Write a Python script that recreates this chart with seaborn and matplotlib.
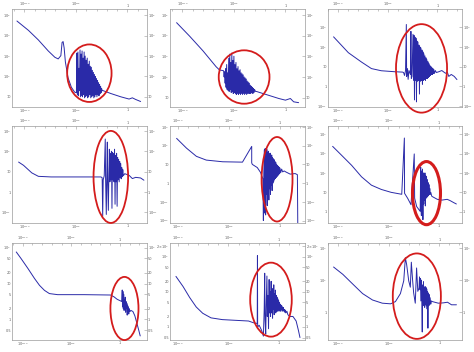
import numpy as np
import pandas as pd
import matplotlib
matplotlib.use("Agg")
import matplotlib.pyplot as plt
import seaborn as sns
from matplotlib.patches import Ellipse
from matplotlib.ticker import FixedLocator, NullLocator, NullFormatter

sns.set_style("white")
plt.rcParams['font.family'] = ['DejaVu Sans']
plt.rcParams['mathtext.fontset'] = 'dejavusans'

# ---------------- data: log10(x), log10(y) ----------------
p1_lx = [-10.72, -9.6, -8.64, -7.68, -7.04, -6.72, -6.46, -6.34, -6.24, -6.14, -6.02, -5.76, -5.44, -5.12,
         -4.95, -4.90, -4.86, -4.80, -4.76, -4.70, -4.66, -4.60, -4.56, -4.50, -4.46, -4.40, -4.36, -4.30,
         -4.26, -4.20, -4.16, -4.10, -4.06, -4.00, -3.96, -3.90, -3.86, -3.80, -3.76, -3.70, -3.66, -3.60,
         -3.56, -3.50, -3.46, -3.40, -3.36, -3.30, -3.26, -3.20, -3.16, -3.10, -3.06, -3.00, -2.96, -2.90,
         -2.86, -2.80, -2.76, -2.70, -2.66, -2.60, -2.56, -2.50, -2.45,
         -2.4, -1.6, -0.64, 0.16, 0.48, 0.8, 1.28]
p1_ly = [4.72, 4.26, 3.79, 3.25, 2.94, 2.86, 3.02, 3.67, 3.71, 3.40, 2.71, 1.93, 1.47, 1.23,
         1.2, 3.15, 1.1, 3.2, 1.05, 2.4, 1.3, 3.3, 1.0, 3.1, 1.05, 3.25, 1.0, 2.9,
         1.1, 3.2, 0.95, 3.0, 1.0, 2.8, 1.05, 2.9, 0.95, 2.6, 1.0, 2.75, 1.1, 2.5,
         0.95, 2.45, 1.0, 2.3, 1.05, 2.2, 0.95, 2.1, 1.0, 2.0, 1.1, 1.9, 1.0, 1.8,
         1.1, 1.7, 1.05, 1.6, 1.15, 1.5, 1.2, 1.4, 1.3,
         1.31, 1.16, 1.0, 0.89, 0.95, 0.87, 0.77]

p2_lx = [-10.56, -9.28, -8.0, -6.72, -6.4,
         -6.00, -5.95, -5.90, -5.85, -5.80, -5.76, -5.70, -5.66, -5.60, -5.56, -5.50, -5.46, -5.40, -5.36,
         -5.30, -5.26, -5.20, -5.16, -5.10, -5.06, -5.00, -4.96, -4.90, -4.86, -4.80, -4.76, -4.70, -4.66,
         -4.60, -4.56, -4.50, -4.46, -4.40, -4.36, -4.30, -4.26, -4.20, -4.16, -4.10, -4.06, -4.00, -3.96,
         -3.90, -3.86, -3.80, -3.76, -3.70, -3.66, -3.60, -3.56, -3.50, -3.46, -3.40, -3.36, -3.30, -3.26,
         -3.20, -3.16, -3.10, -3.06, -3.00, -2.90, -2.80,
         -2.56, -1.6, -0.64, 0.0, 0.48, 0.8, 1.28]
p2_ly = [4.62, 3.96, 3.26, 2.49, 2.34,
         2.3, 2.0, 2.25, 1.7, 2.4, 1.5, 2.6, 1.4, 2.2, 1.35, 2.9, 1.3, 3.1, 1.4,
         2.7, 1.25, 3.15, 1.3, 2.8, 1.2, 3.0, 1.25, 2.6, 1.2, 2.7, 1.15, 2.4, 1.2,
         2.5, 1.15, 2.3, 1.2, 2.35, 1.15, 2.2, 1.2, 2.15, 1.15, 2.1, 1.2, 2.0, 1.15,
         1.95, 1.2, 1.9, 1.15, 1.8, 1.2, 1.75, 1.2, 1.7, 1.2, 1.6, 1.2, 1.55, 1.25,
         1.5, 1.2, 1.45, 1.25, 1.4, 1.3, 1.3,
         1.26, 1.11, 0.96, 0.88, 0.96, 0.8, 0.76]

p3_lx = [-10.44, -8.95, -7.62, -6.63, -5.64, -4.31, -3.49,
         -3.40, -3.30, -3.20, -3.12, -3.09, -3.00, -2.94, -2.85, -2.70, -2.66, -2.62, -2.55, -2.45, -2.40,
         -2.35, -2.30, -2.25, -2.20, -2.15, -2.10, -2.05, -2.00, -1.95, -1.90, -1.85, -1.80, -1.75, -1.70,
         -1.65, -1.60, -1.55, -1.50, -1.45, -1.40, -1.35, -1.30, -1.25, -1.20, -1.15, -1.10, -1.05, -1.00,
         -0.95, -0.90, -0.85, -0.80, -0.75, -0.70, -0.65, -0.60, -0.55, -0.50, -0.45, -0.40, -0.35, -0.30,
         -0.20, -0.10,
         0.15, 0.45, 0.82, 1.0, 1.15, 1.4, 1.7, 1.97]
p3_ly = [2.52, 1.71, 1.23, 0.9, 0.79, 0.74, 0.72,
         0.7, 0.55, 0.8, 3.15, 0.5, 0.9, 0.35, 0.8, 0.6, 2.8, 0.4, 0.5, 2.65, 0.3,
         2.6, -0.7, 2.5, 0.3, 2.45, -0.8, 2.3, 0.25, 2.25, 0.3, 2.1, -0.4, 2.0, 0.25,
         1.95, 0.3, 1.85, 0.1, 1.75, 0.3, 1.65, 0.35, 1.55, 0.3, 1.45, 0.4, 1.35, 0.4,
         1.25, 0.45, 1.15, 0.5, 1.05, 0.55, 1.0, 0.6, 0.95, 0.6, 0.9, 0.65, 0.85, 0.65,
         0.8, 0.7,
         0.74, 0.8, 0.66, 0.72, 0.5, 0.6, 0.5, 0.34]

p4_lx = [-10.56, -10.08, -9.28, -8.64, -7.4, -5.0, -2.56,
         -2.45, -2.40, -2.35, -2.25, -2.15, -2.12, -2.05, -2.00, -1.95, -1.92, -1.85, -1.80, -1.75, -1.70,
         -1.65, -1.60, -1.55, -1.50, -1.45, -1.40, -1.35, -1.30, -1.25, -1.20, -1.15, -1.10, -1.05, -1.00,
         -0.95, -0.90, -0.85, -0.80, -0.75, -0.70, -0.65, -0.60, -0.55, -0.50, -0.45, -0.40,
         -0.26, 0.16, 0.48, 0.8, 1.28, 1.6]
p4_ly = [1.47, 1.31, 0.94, 0.77, 0.74, 0.74, 0.74,
         0.7, -1.2, 0.6, 0.8, 2.6, 0.7, -1.1, 0.8, 2.45, 0.6, -0.9, 0.9, 2.1, 0.5,
         1.9, 0.6, 2.0, -0.8, 1.95, 0.6, 1.9, 0.5, 2.1, -0.6, 1.8, 0.5, 1.9, -0.7,
         1.7, 0.6, 1.6, 0.5, 1.5, 0.7, 1.4, 0.65, 1.2, 0.75, 1.1, 0.8,
         0.9, 0.82, 0.66, 0.72, 0.69, 0.58]

p5_lx = [-10.15, -9.18, -8.2, -7.23, -5.61, -3.66, -2.75, -2.75, -2.69, -2.2, -1.88, -1.65,
         -1.60, -1.56, -1.50, -1.46, -1.42, -1.38, -1.34, -1.30, -1.26, -1.22, -1.18, -1.14, -1.10, -1.06,
         -1.02, -0.98, -0.94, -0.90, -0.86, -0.82, -0.78, -0.74, -0.70, -0.66, -0.62, -0.58, -0.54, -0.50,
         -0.46, -0.42, -0.38, -0.34, -0.30, -0.26, -0.22, -0.18, -0.14, -0.10, -0.06, -0.02, 0.04, 0.10,
         0.20, 0.30, 0.45, 0.60,
         1.04, 1.53, 1.75, 1.79]
p5_ly = [2.39, 1.87, 1.43, 1.23, 1.14, 1.12, 1.96, 1.08, 1.0, 0.83, 0.57, 0.22,
         -2.0, 0.5, 1.78, -1.6, 1.85, -1.7, 1.7, -0.6, 1.8, -1.2, 1.65, -0.5, 1.7, -0.9,
         1.55, -0.3, 1.6, -0.6, 1.45, -0.1, 1.5, -0.4, 1.35, 0.0, 1.3, 0.1, 1.25, 0.2,
         1.15, 0.25, 1.1, 0.3, 1.0, 0.35, 0.95, 0.4, 0.9, 0.45, 0.85, 0.5, 0.8, 0.55,
         0.75, 0.6, 0.65, 0.6,
         0.48, 0.51, 0.45, -2.3]

p6_lx = [-10.54, -9.63, -8.65, -7.67, -6.69, -5.71, -4.73, -3.68, -3.42, -3.40, -3.09, -2.76, -2.44, -2.40,
         -2.2, -1.85,
         -1.80, -1.77, -1.73, -1.70, -1.66, -1.62, -1.58, -1.54, -1.50, -1.46, -1.42, -1.38, -1.34, -1.30,
         -1.26, -1.22, -1.18, -1.14, -1.10, -1.06, -1.02, -0.98, -0.94, -0.90, -0.85, -0.80, -0.70,
         -0.64, -0.15, 0.3, 0.83, 1.1, 1.48, 1.74]
p6_ly = [3.37, 2.9, 2.39, 1.8, 1.37, 1.15, 1.0, 0.9, 3.8, 0.95, 0.69, 0.36, 2.98, 0.7,
         0.27, 0.02,
         2.3, 0.2, -0.2, 2.1, 0.5, 2.2, -0.41, 2.0, 0.4, 1.9, 0.6, 2.0, 0.3, 1.85,
         0.7, 1.8, 0.75, 1.65, 0.8, 1.5, 0.85, 1.4, 0.9, 1.2, 0.9, 1.0, 0.8,
         0.78, 0.64, 0.6, 0.64, 0.58, 0.47, 0.4]

p7_lx = [-10.66, -10.15, -9.46, -8.78, -8.27, -7.76, -7.25, -6.4, -3.67, -0.95, -0.6, -0.27,
         0.20, 0.25, 0.28, 0.32, 0.36, 0.40, 0.44, 0.48, 0.52, 0.56, 0.60, 0.64, 0.68, 0.72, 0.76,
         0.80, 0.84, 0.88, 0.92, 0.98, 1.05, 1.15,
         1.35, 1.55, 1.75, 1.95, 2.1]
p7_ly = [1.88, 1.69, 1.42, 1.14, 0.95, 0.81, 0.72, 0.69, 0.69, 0.68, 0.63, 0.56,
         0.50, 0.82, 0.35, 0.78, 0.30, 0.70, 0.25, 0.55, 0.40, 0.62, 0.20, 0.50, 0.30, 0.45, 0.12,
         0.40, 0.22, 0.35, 0.15, 0.30, 0.22, 0.25,
         0.22, 0.10, -0.10, -0.30, -0.46]

p8_lx = [-10.21, -9.5, -8.85, -8.2, -7.55, -6.73, -5.6, -3.0, -2.51, -2.14, -2.12, -2.10, -1.95, -1.7,
         -1.53,
         -1.45, -1.40, -1.36, -1.30, -1.25, -1.18, -1.14, -1.08, -1.02, -0.96, -0.92, -0.86, -0.82, -0.76,
         -0.72, -0.66, -0.62, -0.58, -0.54, -0.50, -0.46, -0.42, -0.38, -0.34, -0.30, -0.26, -0.22, -0.18,
         -0.14, -0.10, -0.06, -0.02, 0.02, 0.06, 0.10, 0.14, 0.18, 0.22, 0.26, 0.30, 0.34, 0.38, 0.42,
         0.46, 0.50, 0.55, 0.60, 0.65, 0.70, 0.80, 0.90,
         1.07, 1.4, 1.72, 1.95, 2.1]
p8_ly = [1.44, 1.15, 0.84, 0.57, 0.39, 0.26, 0.21, 0.17, 0.12, 0.1, 2.03, 0.0, 0.05, -0.1,
         -0.26,
         0.5, 1.53, 0.2, -0.2, 0.6, 1.45, 0.3, 0.9, -0.05, 1.35, 0.4, 1.0, 0.3, 1.3,
         0.4, 0.9, 0.25, 1.1, 0.5, 1.2, 0.35, 0.95, 0.45, 1.05, 0.4, 0.9, 0.45, 0.85,
         0.45, 0.8, 0.5, 0.75, 0.45, 0.7, 0.5, 0.65, 0.45, 0.62, 0.5, 0.6, 0.45, 0.55, 0.48,
         0.55, 0.45, 0.5, 0.42, 0.48, 0.4, 0.45, 0.35,
         0.3, 0.3, 0.17, -0.1, -0.3]

p9_lx = [-10.45, -9.53, -8.56, -7.58, -6.6, -5.63, -4.81, -4.33, -3.84, -3.51, -3.35, -3.22, -3.02,
         -2.86, -2.76, -2.63, -2.53, -2.37, -2.24, -2.12,
         -2.00, -1.95, -1.90, -1.86, -1.82, -1.76, -1.72, -1.68, -1.64, -1.60, -1.56, -1.52, -1.48, -1.44,
         -1.40, -1.36, -1.32, -1.28, -1.24, -1.20, -1.16, -1.12, -1.08, -1.04, -1.00, -0.96, -0.90, -0.84,
         -0.78,
         -0.68, -0.09, 0.4, 0.82, 1.21, 1.7]
p9_ly = [2.82, 2.36, 1.76, 1.16, 0.76, 0.56, 0.52, 0.66, 1.16, 1.96, 3.4, 2.96, 1.96,
         1.56, 3.12, 1.96, 1.2, 0.56, 2.76, 1.3,
         1.5, 2.2, 1.4, 2.1, 0.7, 2.0, 0.5, -1.24, 1.7, 0.4, 1.9, 0.6, 1.5, 0.3,
         1.6, 0.5, 1.55, 0.4, 1.45, 0.2, 1.3, -1.0, 1.2, 0.4, 1.1, 0.45, 0.9, 0.5,
         0.7,
         0.66, 0.56, 0.58, 0.62, 0.46, 0.46]

x_tick_values = [1e-10, 1e-5, 1.0]
x_tick_labels = ["$10^{-10}$", "$10^{-5}$", "1"]

y_ticks_p1 = [1e1, 1e2, 1e3, 1e4, 1e5]
y_labels_p1 = ["10", "$10^{2}$", "$10^{3}$", "$10^{4}$", "$10^{5}$"]
y_ticks_p3 = [1e-1, 1, 1e1, 1e2, 1e3]
y_labels_p3 = ["$10^{-1}$", "1", "10", "$10^{2}$", "$10^{3}$"]
y_ticks_p5 = [1e-2, 1e-1, 1, 1e1, 1e2, 1e3]
y_labels_p5 = ["$10^{-2}$", "$10^{-1}$", "1", "10", "$10^{2}$", "$10^{3}$"]
y_ticks_p6 = [1, 1e1, 1e2, 1e3, 1e4]
y_labels_p6 = ["1", "10", "$10^{2}$", "$10^{3}$", "$10^{4}$"]
y_ticks_p7 = [0.5, 1, 2, 5, 10, 20, 50, 100]
y_labels_p7 = ["0.5", "1", "2", "5", "10", "20", "50", "$10^{2}$"]
y_ticks_p8 = [0.5, 1, 2, 5, 10, 20, 50, 100, 200]
y_labels_p8 = ["0.5", "1", "2", "5", "10", "20", "50", "$10^{2}$", "2×$10^{2}$"]
y_ticks_p9 = [1, 1e2, 1e4]
y_labels_p9 = ["1", "$10^{2}$", "$10^{4}$"]

# ---------------- layout / style ----------------
W, H = 474, 352
col_px = [(12, 135), (170, 135), (328, 134)]
row_px = [(9, 107), (126, 223), (243, 340)]

panels = [
    dict(lx=p1_lx, ly=p1_ly, xlim=(-11.2, 1.9), ylim=(0.5, 5.31), yt=y_ticks_p1, yl=y_labels_p1,
         ell=(0.573, 0.345, 0.329, 0.587), elw=1.3),
    dict(lx=p2_lx, ly=p2_ly, xlim=(-11.2, 1.9), ylim=(0.55, 5.28), yt=y_ticks_p1, yl=y_labels_p1,
         ell=(0.549, 0.306, 0.376, 0.545), elw=1.3),
    dict(lx=p3_lx, ly=p3_ly, xlim=(-11.0, 2.48), ylim=(-1.06, 3.94), yt=y_ticks_p3, yl=y_labels_p3,
         ell=(0.698, 0.394, 0.381, 0.903), elw=1.3),
    dict(lx=p4_lx, ly=p4_ly, xlim=(-11.2, 1.9), ylim=(-1.52, 3.24), yt=y_ticks_p3, yl=y_labels_p3,
         ell=(0.732, 0.475, 0.256, 0.949), elw=1.3),
    dict(lx=p5_lx, ly=p5_ly, xlim=(-10.8, 2.5), ylim=(-2.13, 3.05), yt=y_ticks_p5, yl=y_labels_p5,
         ell=(0.793, 0.451, 0.229, 0.871), elw=1.3),
    dict(lx=p6_lx, ly=p6_ly, xlim=(-11.0, 2.3), ylim=(-0.58, 4.42), yt=y_ticks_p6, yl=y_labels_p6,
         ell=(0.735, 0.308, 0.209, 0.651), elw=2.2),
    dict(lx=p7_lx, ly=p7_ly, xlim=(-11.1, 2.8), ylim=(-0.574, 2.13), yt=y_ticks_p7, yl=y_labels_p7,
         ell=(0.833, 0.325, 0.208, 0.651), elw=1.3),
    dict(lx=p8_lx, ly=p8_ly, xlim=(-10.8, 2.6), ylim=(-0.37, 2.39), yt=y_ticks_p8, yl=y_labels_p8,
         ell=(0.748, 0.416, 0.308, 0.763), elw=1.3),
    dict(lx=p9_lx, ly=p9_ly, xlim=(-11.0, 2.25), ylim=(-1.74, 4.32), yt=y_ticks_p9, yl=y_labels_p9,
         ell=(0.663, 0.452, 0.359, 0.881), elw=1.3),
]

fig = plt.figure(figsize=(W / 100, H / 100), dpi=100)
fig.patch.set_facecolor("white")

line_color = "#2a2aa8"
frame_color = "#9a9a9a"
label_color = "#606060"

for i, p in enumerate(panels):
    r, c = divmod(i, 3)
    left, width = col_px[c]
    top, bottom = row_px[r]
    ax = fig.add_axes([left / W, 1 - bottom / H, width / W, (bottom - top) / H])
    df = pd.DataFrame({"x": np.power(10.0, p["lx"]), "y": np.power(10.0, p["ly"])})
    sns.lineplot(data=df, x="x", y="y", ax=ax, sort=False, estimator=None,
                 color=line_color, linewidth=0.7)
    ax.set_xscale("log")
    ax.set_yscale("log")
    ax.set_xlim(10 ** p["xlim"][0], 10 ** p["xlim"][1])
    ax.set_ylim(10 ** p["ylim"][0], 10 ** p["ylim"][1])
    ax.set_xlabel("")
    ax.set_ylabel("")
    ax.set_xticks(x_tick_values, x_tick_labels)
    ax.xaxis.set_minor_locator(FixedLocator([10.0 ** k for k in range(-12, 4)]))
    ax.xaxis.set_minor_formatter(NullFormatter())
    ax.set_yticks(p["yt"], p["yl"])
    ax.yaxis.set_minor_locator(NullLocator())
    ax.tick_params(which="both", direction="in", top=True, right=True,
                   labeltop=True, labelright=True, labelbottom=True, labelleft=True,
                   labelsize=2.5, colors=frame_color, labelcolor=label_color, width=0.4, pad=0.6)
    ax.tick_params(which="major", length=2.2)
    ax.tick_params(which="minor", length=1.2)
    for s in ax.spines.values():
        s.set_color(frame_color)
        s.set_linewidth(0.5)
    cx, cy, ew, eh = p["ell"]
    ax.add_patch(Ellipse((cx, cy), ew, eh, transform=ax.transAxes, fill=False,
                         edgecolor="#d41c1c", linewidth=p["elw"], clip_on=False, zorder=5))

fig.savefig("out.png", dpi=100, facecolor="white")
